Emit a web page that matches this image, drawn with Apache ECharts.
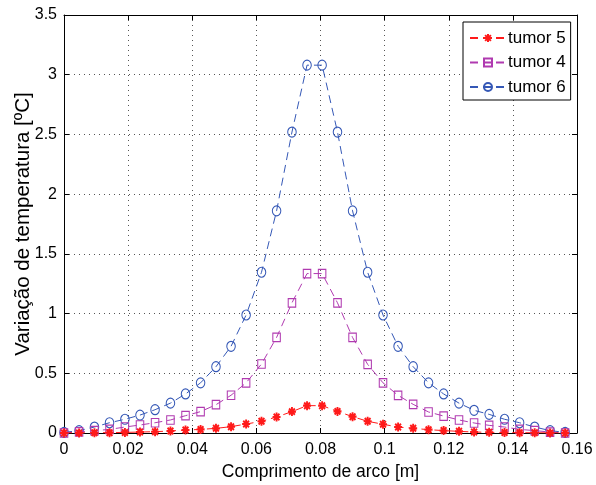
<!DOCTYPE html>
<html>
<head>
<meta charset="utf-8">
<script src="https://cdn.jsdelivr.net/npm/echarts@6/dist/echarts.min.js"></script>
<style>html,body{margin:0;padding:0;background:#fff}#c{width:596px;height:485px}</style>
</head>
<body>
<div id="c"></div>
<script>
const arcLength = [0, 0.0047, 0.0095, 0.0142, 0.0190, 0.0237, 0.0284, 0.0332, 0.0379, 0.0426, 0.0474, 0.0521, 0.0568, 0.0616, 0.0663, 0.0711, 0.0758, 0.0805, 0.0853, 0.0900, 0.0947, 0.0995, 0.1042, 0.1089, 0.1137, 0.1184, 0.1232, 0.1279, 0.1326, 0.1374, 0.1421, 0.1468, 0.1516, 0.1563];
const tumor5 = [0, 0.001, 0.002, 0.003, 0.005, 0.008, 0.011, 0.017, 0.025, 0.03, 0.039, 0.053, 0.075, 0.098, 0.134, 0.179, 0.229, 0.229, 0.181, 0.137, 0.098, 0.073, 0.05, 0.039, 0.028, 0.02, 0.014, 0.008, 0.006, 0.004, 0.003, 0.002, 0.001, 0];
const tumor4 = [0, 0.01, 0.02, 0.03, 0.05, 0.067, 0.086, 0.109, 0.145, 0.179, 0.237, 0.316, 0.42, 0.578, 0.8, 1.09, 1.335, 1.335, 1.09, 0.8, 0.575, 0.42, 0.315, 0.24, 0.176, 0.142, 0.109, 0.084, 0.064, 0.05, 0.03, 0.02, 0.008, 0];
const tumor6 = [0.005, 0.02, 0.05, 0.086, 0.115, 0.15, 0.195, 0.25, 0.327, 0.42, 0.555, 0.726, 0.988, 1.346, 1.86, 2.52, 3.08, 3.08, 2.52, 1.86, 1.346, 0.988, 0.726, 0.555, 0.42, 0.327, 0.25, 0.19, 0.156, 0.115, 0.086, 0.05, 0.02, 0.005];
const seriesNames = ['tumor 5', 'tumor 4', 'tumor 6'];
const xTitle = 'Comprimento de arco [m]';
const yTitle = 'Variação de temperatura [ºC]';

const FONT = '"Liberation Sans", Arial, sans-serif';
const colors = ['#ff1a1a', '#b03ab0', '#3558b6'];
const star = 'path://M0,-5L0,5M-5,0L5,0M-3.6,-3.6L3.6,3.6M-3.6,3.6L3.6,-3.6';
const pairs = arr => arcLength.map((x, i) => [x, arr[i]]);

const chart = echarts.init(document.getElementById('c'), null, {renderer: 'canvas'});
const axisCommon = {
  axisLine: {show: true, onZero: false, lineStyle: {color: '#000', width: 1}},
  axisTick: {show: true, inside: true, length: 5, lineStyle: {color: '#000'}},
};
chart.setOption({
  animation: false,
  backgroundColor: '#fff',
  grid: {left: 64, right: 19, top: 15, bottom: 52, show: false, containLabel: false, outerBoundsMode: 'none'},
  legend: {
    show: true, left: 463, top: 22, orient: 'vertical',
    backgroundColor: '#fff', borderColor: '#000', borderWidth: 1,
    padding: [6, 5, 3, 6], itemGap: 4.5, itemWidth: 36, itemHeight: 10,
    textStyle: {fontFamily: FONT, fontSize: 17, lineHeight: 20, color: '#000', padding: [0, 0, 0, -3]},
    data: seriesNames
  },
  xAxis: [{
    type: 'value', min: 0, max: 0.16, interval: 0.02, position: 'bottom',
    ...axisCommon,
    axisLabel: {fontFamily: FONT, fontSize: 16, color: '#000', margin: 9},
    splitLine: {show: true, lineStyle: {color: '#555', type: [1, 4], width: 1}},
    name: xTitle, nameLocation: 'middle', nameGap: 30, nameMoveOverlap: false,
    nameTextStyle: {fontFamily: FONT, fontSize: 17.5, color: '#000'}
  }, {
    type: 'value', min: 0, max: 0.16, interval: 0.02, position: 'top',
    ...axisCommon, axisLabel: {show: false}, splitLine: {show: false}
  }],
  yAxis: [{
    type: 'value', min: 0, max: 3.5, interval: 0.5, position: 'left',
    ...axisCommon,
    axisLabel: {fontFamily: FONT, fontSize: 16, color: '#000', margin: 7},
    splitLine: {show: true, lineStyle: {color: '#555', type: [1, 4], width: 1}},
    name: yTitle, nameLocation: 'middle', nameGap: 30, nameMoveOverlap: false,
    nameTextStyle: {fontFamily: FONT, fontSize: 20.5, color: '#000'}
  }, {
    type: 'value', min: 0, max: 3.5, interval: 0.5, position: 'right',
    ...axisCommon, axisLabel: {show: false}, splitLine: {show: false}
  }],
  series: [
    {name: seriesNames[0], type: 'line', data: pairs(tumor5), symbol: star, symbolSize: [8, 9],
     lineStyle: {color: colors[0], width: 1, type: [8, 5]},
     itemStyle: {color: colors[0], borderColor: colors[0], borderWidth: 2}, z: 4},
    {name: seriesNames[1], type: 'line', data: pairs(tumor4), symbol: 'rect', symbolSize: [7.5, 8.5],
     lineStyle: {color: colors[1], width: 1, type: [8, 5]},
     itemStyle: {color: 'rgba(0,0,0,0)', borderColor: colors[1], borderWidth: 1.1}, z: 3},
    {name: seriesNames[2], type: 'line', data: pairs(tumor6), symbol: 'circle', symbolSize: [8.5, 10],
     lineStyle: {color: colors[2], width: 1, type: [8, 5]},
     itemStyle: {color: 'rgba(0,0,0,0)', borderColor: colors[2], borderWidth: 1.1}, z: 2}
  ]
});
</script>
</body>
</html>
